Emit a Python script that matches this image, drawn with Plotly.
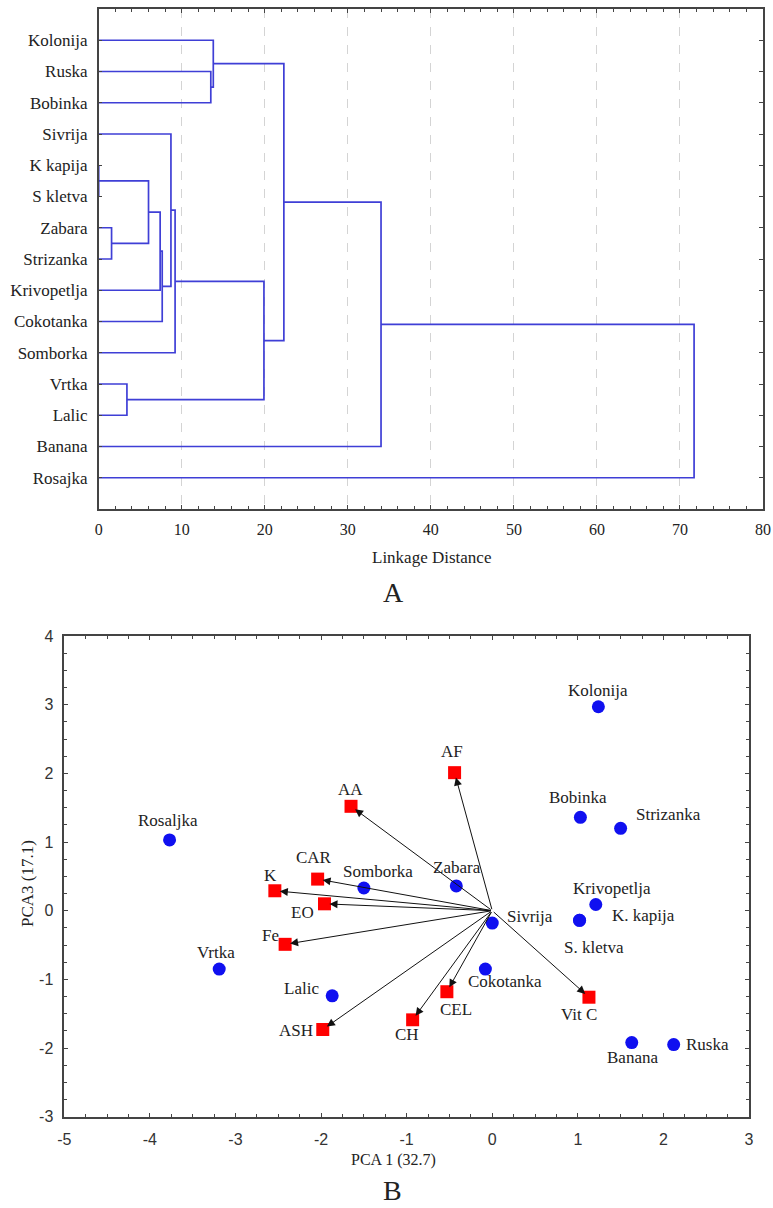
import plotly.graph_objects as go

# ---------------- Data: dendrogram (panel A) ----------------
leaves = ["Kolonija", "Ruska", "Bobinka", "Sivrija", "K kapija", "S kletva", "Zabara",
          "Strizanka", "Krivopetlja", "Cokotanka", "Somborka", "Vrtka", "Lalic", "Banana", "Rosajka"]
# merges: (child_a, child_b, linkage distance); new nodes numbered from len(leaves)
merge_a = [4, 6, 11, 15, 18, 19, 3, 21, 1, 0, 22, 24, 26, 27]
merge_b = [5, 7, 12, 16, 8, 9, 20, 10, 2, 23, 17, 25, 13, 14]
merge_h = [0.0, 1.55, 3.4, 6.0, 7.4, 7.65, 8.7, 9.2, 13.5, 13.8, 19.9, 22.3, 34.0, 71.7]
dist_ticks = [0, 10, 20, 30, 40, 50, 60, 70, 80]

# ---------------- Data: PCA biplot (panel B) ----------------
cultivars = ["Kolonija", "Bobinka", "Strizanka", "Krivopetlja", "K. kapija", "S. kletva", "Zabara",
             "Somborka", "Sivrija", "Cokotanka", "Rosaljka", "Vrtka", "Lalic", "Banana", "Ruska"]
pc1 = [1.24, 1.03, 1.50, 1.21, 1.02, 1.02, -0.42, -1.50, 0.00, -0.08, -3.77, -3.19, -1.87, 1.63, 2.12]
pc3 = [2.97, 1.36, 1.20, 0.09, -0.14, -0.14, 0.36, 0.33, -0.18, -0.85, 1.03, -0.85, -1.24, -1.92, -1.95]

variables = ["AF", "AA", "CAR", "K", "EO", "Fe", "ASH", "CH", "CEL", "Vit C"]
load1 = [-0.44, -1.65, -2.04, -2.54, -1.96, -2.42, -1.98, -0.93, -0.53, 1.13]
load3 = [2.01, 1.52, 0.46, 0.29, 0.10, -0.49, -1.73, -1.59, -1.18, -1.26]

pc1_ticks = [-5, -4, -3, -2, -1, 0, 1, 2, 3]
pc1_ticktext = ["-5", "-4", "-3", "-2", "-1", "0", "1", "2", "3"]
pc3_ticks = [-3, -2, -1, 0, 1, 2, 3, 4]
pc3_ticktext = ["-3", "-2", "-1", "0", "1", "2", "3", "4"]

# label offsets in pixels (dx right, dy up) -- style only
cult_offsets = {
    "Kolonija": (0, 16), "Bobinka": (-2, 20), "Strizanka": (48, 14), "Krivopetlja": (16, 16),
    "K. kapija": (64, 5), "S. kletva": (14, -27), "Zabara": (1, 18), "Somborka": (14, 17),
    "Sivrija": (38, 7), "Cokotanka": (20, -12), "Rosaljka": (-2, 19), "Vrtka": (-3, 17),
    "Lalic": (-31, 7), "Banana": (1, -15), "Ruska": (34, 0),
}
var_offsets = {
    "AF": (-3, 21), "AA": (-1, 17), "CAR": (-4, 22), "K": (-4, 15), "EO": (-22, -9),
    "Fe": (-15, 9), "ASH": (-27, -1), "CH": (-6, -15), "CEL": (9, -18), "Vit C": (-10, -17),
}

W, H = 773, 1208
SERIF = "Liberation Serif, Times New Roman, serif"
SANS = "Liberation Sans, Arial, sans-serif"
DCOL = "#3f3fd6"
AXCOL = "#444444"
TXT = "#222222"


def px(x):
    return x / W


def py(y):
    return 1 - y / H


fig = go.Figure()

# ---- build dendrogram segments ----
n = len(leaves)
node_y = {i: float(i) for i in range(n)}
node_h = {i: 0.0 for i in range(n)}
xs, ys = [], []
for k, (a, b, h) in enumerate(zip(merge_a, merge_b, merge_h)):
    ya, yb = node_y[a], node_y[b]
    xs += [node_h[a], h, h, node_h[b], None]
    ys += [ya, ya, yb, yb, None]
    node_y[n + k] = (ya + yb) / 2
    node_h[n + k] = h

fig.add_trace(go.Scatter(x=xs, y=ys, mode="lines", line=dict(color=DCOL, width=1.7),
                         xaxis="x", yaxis="y", showlegend=False, hoverinfo="skip"))

# ---- PCA ----
for v, x, y in zip(variables, load1, load3):
    fig.add_annotation(x=x, y=y, ax=0, ay=0, xref="x2", yref="y2", axref="x2", ayref="y2",
                       showarrow=True, arrowhead=2, arrowsize=1.6, arrowwidth=1.0,
                       arrowcolor="#111111", standoff=5, text="")

fig.add_trace(go.Scatter(x=pc1, y=pc3, mode="markers",
                         marker=dict(color="#1010f0", size=13, symbol="circle"),
                         xaxis="x2", yaxis="y2", showlegend=False, text=cultivars))
fig.add_trace(go.Scatter(x=load1, y=load3, mode="markers",
                         marker=dict(color="#ff0000", size=13, symbol="square"),
                         xaxis="x2", yaxis="y2", showlegend=False, text=variables))

for name, x, y in zip(cultivars, pc1, pc3):
    dx, dy = cult_offsets[name]
    fig.add_annotation(x=x, y=y, xref="x2", yref="y2", text=name, showarrow=False,
                       xshift=dx, yshift=dy, font=dict(family=SERIF, size=17, color=TXT))
for name, x, y in zip(variables, load1, load3):
    dx, dy = var_offsets[name]
    fig.add_annotation(x=x, y=y, xref="x2", yref="y2", text=name, showarrow=False,
                       xshift=dx, yshift=dy, font=dict(family=SERIF, size=17, color=TXT))


# ---- titles ----
def ann(text, x, y, size, family=SERIF, angle=0):
    fig.add_annotation(text=text, x=px(x), y=py(y), xref="paper", yref="paper",
                       showarrow=False, textangle=angle, xanchor="center", yanchor="middle",
                       font=dict(family=family, size=size, color=TXT))


ann("Linkage Distance", 431, 557, 17)
ann("A", 393, 592, 28)
ann("PCA 1 (32.7)", 393, 1160, 16)
ann("PCA3 (17.1)", 27, 884, 17, angle=-90)
ann("B", 392, 1190, 28)

common_axis = dict(showline=True, mirror="ticks", linecolor=AXCOL, linewidth=1.5,
                   ticks="inside", tickcolor=AXCOL, zeroline=False, automargin=False)

fig.update_layout(
    width=W, height=H, margin=dict(l=0, r=0, t=0, b=0, autoexpand=False),
    paper_bgcolor="white", plot_bgcolor="white",
    xaxis=dict(domain=[px(98.7), px(763)], range=[0, 80], tickvals=dist_ticks, ticklen=4,
               showgrid=True, gridcolor="#d4d4d4", griddash="dash", gridwidth=1,
               minor=dict(dtick=2, ticks="inside", ticklen=3, tickcolor=AXCOL),
               tickfont=dict(family=SERIF, size=16, color=TXT), ticklabelstandoff=5,
               anchor="y", **common_axis),
    yaxis=dict(domain=[py(509), py(9)], range=[15, -1],
               tickvals=list(range(len(leaves))), ticktext=leaves, ticklen=4,
               showgrid=False, tickfont=dict(family=SERIF, size=17, color=TXT),
               ticklabelstandoff=6, anchor="x", **common_axis),
    xaxis2=dict(domain=[px(64.3), px(749)], range=[-5, 3], tickvals=pc1_ticks,
                ticktext=pc1_ticktext, ticklen=4, showgrid=False,
                minor=dict(dtick=0.25, ticks="inside", ticklen=3, tickcolor=AXCOL),
                tickfont=dict(family=SANS, size=16, color="#333333"), ticklabelstandoff=7,
                anchor="y2", **common_axis),
    yaxis2=dict(domain=[py(1116.7), py(636)], range=[-3, 4], tickvals=pc3_ticks,
                ticktext=pc3_ticktext, ticklen=4, showgrid=False,
                minor=dict(dtick=0.25, ticks="inside", ticklen=3, tickcolor=AXCOL),
                tickfont=dict(family=SANS, size=16, color="#333333"), ticklabelstandoff=6,
                anchor="x2", **common_axis),
)

fig.write_html("out.html", config={"displayModeBar": False},
               post_script="document.body.style.margin='0px';"
                           "document.body.style.overflow='hidden';")
